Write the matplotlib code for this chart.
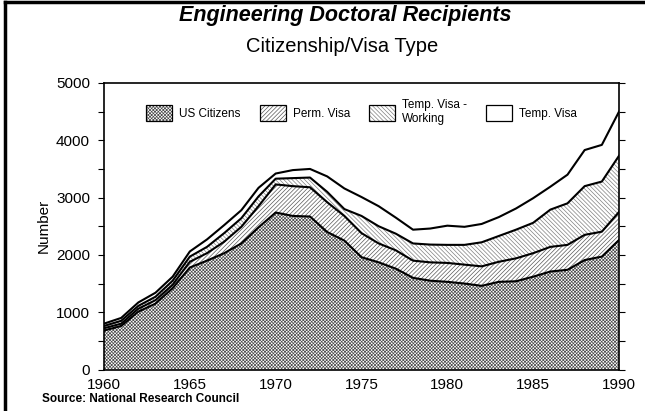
import matplotlib
matplotlib.use('Agg')
from matplotlib import pyplot as plt
from matplotlib.patches import Patch
from matplotlib.lines import Line2D
from matplotlib.ticker import MultipleLocator

plt.rcParams['font.family'] = 'Liberation Sans'
plt.rcParams['hatch.linewidth'] = 0.5

years = list(range(1960, 1991))

# stacked boundaries (cumulative numbers)
us_citizens = [680, 760, 1010, 1150, 1420, 1780, 1900, 2030, 2200, 2480,
               2740, 2680, 2670, 2400, 2250, 1960, 1870, 1760, 1600, 1550,
               1530, 1500, 1460, 1530, 1540, 1620, 1710, 1740, 1910, 1970,
               2260]
plus_perm = [720, 800, 1060, 1210, 1480, 1880, 2030, 2230, 2490, 2850,
             3230, 3200, 3180, 2920, 2680, 2380, 2200, 2080, 1900, 1870,
             1860, 1830, 1800, 1880, 1940, 2030, 2140, 2175, 2350, 2405,
             2750]
plus_temp_working = [760, 850, 1110, 1270, 1550, 1970, 2140, 2380, 2640, 3020,
                     3330, 3340, 3350, 3100, 2800, 2680, 2500, 2370, 2200, 2180,
                     2175, 2175, 2220, 2330, 2440, 2560, 2790, 2900, 3200, 3280,
                     3730]
total = [800, 900, 1170, 1340, 1620, 2060, 2270, 2520, 2780, 3170,
         3420, 3480, 3500, 3370, 3160, 3010, 2850, 2650, 2440, 2460,
         2510, 2490, 2540, 2660, 2810, 2990, 3190, 3400, 3830, 3920,
         4500]

labels = ['US Citizens', 'Perm. Visa', 'Temp. Visa -\nWorking', 'Temp. Visa']
hatches = ['x'*10, '/'*8, '\\'*8, '']
hatch_cols = ['0.3', '0.35', '0.5', 'white']

fig = plt.figure(figsize=(6.45, 4.11), dpi=100)
ax = fig.add_axes([104/645, 1-369.5/411, (619-104)/645, (369.5-83)/411])

layers = [[0]*len(years), us_citizens, plus_perm, plus_temp_working, total]
for i in range(4):
    ax.fill_between(years, layers[i], layers[i+1], facecolor='white',
                    edgecolor=hatch_cols[i], hatch=hatches[i], linewidth=0)
for s in layers[1:]:
    ax.plot(years, s, color='black', lw=1.5)

ax.set_xlim(1960, 1990)
ax.set_ylim(0, 5000)
ax.set_xticks(range(1960, 1991, 5))
ax.yaxis.set_major_locator(MultipleLocator(1000))
ax.yaxis.set_minor_locator(MultipleLocator(500))
ax.tick_params(axis='x', length=0, pad=6, labelsize=11)
ax.tick_params(axis='y', which='both', direction='out', left=True, right=True,
               length=4, width=0.8, labelsize=11, pad=6)
for sp in ax.spines.values():
    sp.set_linewidth(1.2)
ax.set_ylabel('Number', fontsize=11, labelpad=4)

handles = []
for i in range(4):
    handles.append((Patch(facecolor='white', edgecolor=hatch_cols[i], hatch=hatches[i], lw=0),
                    Patch(facecolor='none', edgecolor='black', lw=0.9)))
ax.legend(handles, labels, ncol=4, loc='upper center', bbox_to_anchor=(0.5, 0.98),
          frameon=False, fontsize=8.5, handlelength=2.2, handleheight=1.8,
          columnspacing=1.6, handletextpad=0.6)

fig.text(0.535, 1-15/411, 'Engineering Doctoral Recipients', ha='center', va='center',
         fontsize=15.5, fontweight='bold', fontstyle='italic')
fig.text(0.53, 1-46/411, 'Citizenship/Visa Type', ha='center', va='center', fontsize=14.5)
fig.text(42/645, 1-399/411, 'Source: National Research Council', ha='left', va='center',
         fontsize=8.5, fontweight='bold')

fig.add_artist(Line2D([0.008, 0.008], [0, 0.995], color='black', lw=2.5, transform=fig.transFigure))
fig.add_artist(Line2D([0.008, 1.0], [0.995, 0.995], color='black', lw=2.5, transform=fig.transFigure))

plt.savefig('out.png', dpi=100)
